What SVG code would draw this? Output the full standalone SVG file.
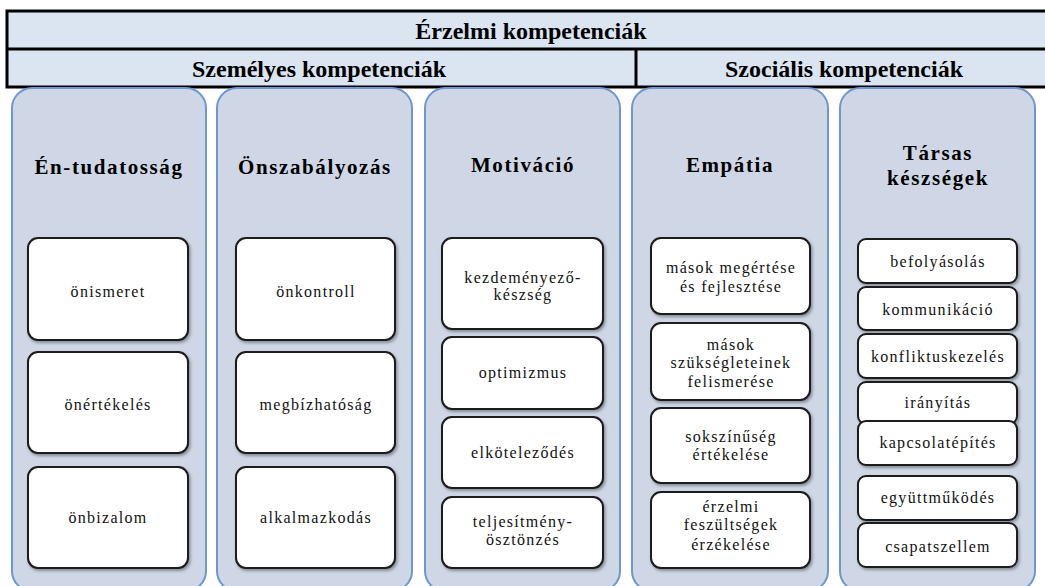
<svg xmlns="http://www.w3.org/2000/svg" width="1045" height="586" viewBox="0 0 1045 586">
<defs>
<filter id="sh" x="-10%" y="-10%" width="125%" height="130%">
<feDropShadow dx="1.5" dy="2" stdDeviation="1.5" flood-color="#000" flood-opacity="0.35"/>
</filter>
<style>
.hdrbox{fill:#DBE5F1;stroke:#000;stroke-width:3}
.line{stroke:#000;stroke-width:3}
.col{fill:#CFD7E6;stroke:#6C98CE;stroke-width:2}
.box{fill:#fff;stroke:#1a1a1a;stroke-width:2;filter:url(#sh)}
text{font-family:'Liberation Serif','Times New Roman','DejaVu Serif',serif;fill:#000;text-anchor:middle}
.hdr{font-weight:bold;font-size:24px}
.ttl{font-weight:bold;font-size:21px;letter-spacing:1.6px}
.itm{font-weight:normal;font-size:16px;letter-spacing:1.3px;fill:#111}
</style>
</defs>
<rect width="1045" height="586" fill="#fff"/>
<g id="header">
<rect class="hdrbox" x="7" y="11" width="1045" height="76"/>
<line class="line" x1="7" y1="49" x2="1045" y2="49"/>
<line class="line" x1="636" y1="49" x2="636" y2="87"/>
<text class="hdr" x="531" y="38.5" font-family="Liberation Serif, serif">Érzelmi kompetenciák</text>
<text class="hdr" x="319" y="77">Személyes kompetenciák</text>
<text class="hdr" x="844" y="77">Szociális kompetenciák</text>
</g>
<g id="col-entudatossag">
<rect class="col" x="12" y="88" width="194" height="503" rx="20"/>
<text class="ttl" x="109" y="174">Én-tudatosság</text>
<rect class="box" x="28" y="238" width="160" height="102" rx="10"/>
<text class="itm" x="108" y="297">önismeret</text>
<rect class="box" x="28" y="352" width="160" height="101" rx="10"/>
<text class="itm" x="108" y="410">önértékelés</text>
<rect class="box" x="28" y="467" width="160" height="101" rx="10"/>
<text class="itm" x="108" y="523">önbizalom</text>
</g>
<g id="col-onszabalyozas">
<rect class="col" x="217" y="88" width="195" height="503" rx="20"/>
<text class="ttl" x="315" y="174">Önszabályozás</text>
<rect class="box" x="236" y="238" width="159" height="102" rx="10"/>
<text class="itm" x="316" y="297">önkontroll</text>
<rect class="box" x="236" y="352" width="159" height="101" rx="10"/>
<text class="itm" x="316" y="410">megbízhatóság</text>
<rect class="box" x="236" y="467" width="159" height="101" rx="10"/>
<text class="itm" x="316" y="523">alkalmazkodás</text>
</g>
<g id="col-motivacio">
<rect class="col" x="425" y="88" width="195" height="503" rx="20"/>
<text class="ttl" x="523" y="172">Motiváció</text>
<rect class="box" x="442" y="238" width="161" height="91" rx="10"/>
<text class="itm" x="523" y="283">kezdeményező-</text>
<text class="itm" x="523" y="300">készség</text>
<rect class="box" x="442" y="337" width="161" height="72" rx="10"/>
<text class="itm" x="523" y="378">optimizmus</text>
<rect class="box" x="442" y="417" width="161" height="71" rx="10"/>
<text class="itm" x="523" y="458">elköteleződés</text>
<rect class="box" x="442" y="497" width="161" height="71" rx="10"/>
<text class="itm" x="523" y="527">teljesítmény-</text>
<text class="itm" x="523" y="545">ösztönzés</text>
</g>
<g id="col-empatia">
<rect class="col" x="632" y="88" width="196" height="503" rx="20"/>
<text class="ttl" x="730" y="172">Empátia</text>
<rect class="box" x="651" y="238" width="159" height="76" rx="10"/>
<text class="itm" x="731" y="273">mások megértése</text>
<text class="itm" x="731" y="292">és fejlesztése</text>
<rect class="box" x="651" y="323" width="159" height="77" rx="10"/>
<text class="itm" x="731" y="350">mások</text>
<text class="itm" x="731" y="368">szükségleteinek</text>
<text class="itm" x="731" y="387">felismerése</text>
<rect class="box" x="651" y="408" width="159" height="75" rx="10"/>
<text class="itm" x="731" y="442">sokszínűség</text>
<text class="itm" x="731" y="460">értékelése</text>
<rect class="box" x="651" y="492" width="159" height="76" rx="10"/>
<text class="itm" x="731" y="512">érzelmi</text>
<text class="itm" x="731" y="530">feszültségek</text>
<text class="itm" x="731" y="550">érzékelése</text>
</g>
<g id="col-tarsas">
<rect class="col" x="840" y="88" width="195" height="503" rx="20"/>
<text class="ttl" x="938" y="160">Társas</text>
<text class="ttl" x="938" y="185">készségek</text>
<rect class="box" x="858" y="239" width="159" height="44" rx="8"/>
<text class="itm" x="938" y="267">befolyásolás</text>
<rect class="box" x="858" y="287" width="159" height="43" rx="8"/>
<text class="itm" x="938" y="315">kommunikáció</text>
<rect class="box" x="858" y="334" width="159" height="44" rx="8"/>
<text class="itm" x="938" y="362">konfliktuskezelés</text>
<rect class="box" x="858" y="382" width="159" height="42" rx="8"/>
<text class="itm" x="938" y="408">irányítás</text>
<rect class="box" x="858" y="421" width="159" height="44" rx="8"/>
<text class="itm" x="938" y="448">kapcsolatépítés</text>
<rect class="box" x="858" y="476" width="159" height="44" rx="8"/>
<text class="itm" x="938" y="503">együttműködés</text>
<rect class="box" x="858" y="523" width="159" height="44" rx="8"/>
<text class="itm" x="938" y="552">csapatszellem</text>
</g>
<g id="connectors"></g>
</svg>
